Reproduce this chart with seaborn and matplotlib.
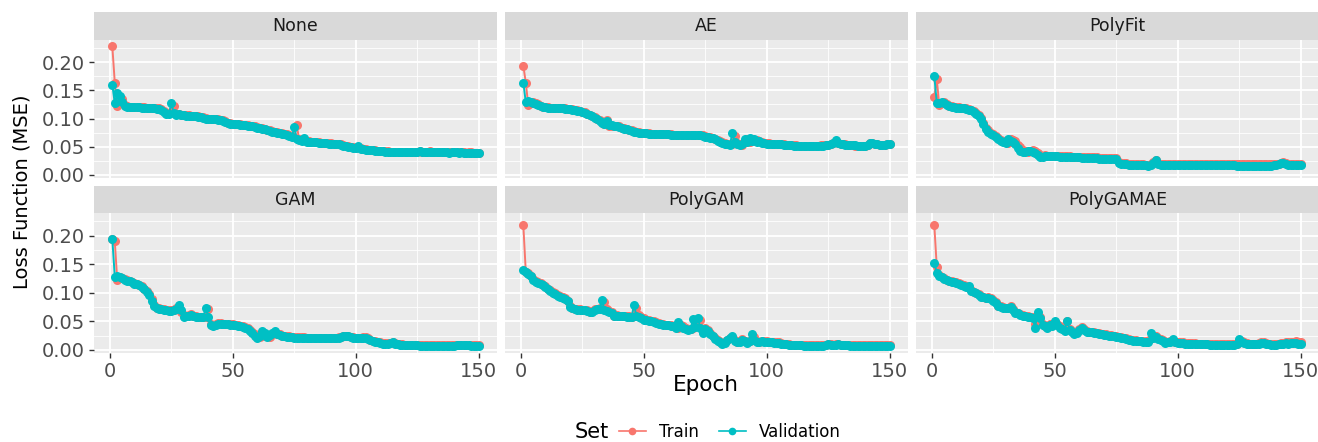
import numpy as np
import pandas as pd
import matplotlib
matplotlib.use("Agg")
import matplotlib.pyplot as plt
import seaborn as sns
from matplotlib.lines import Line2D
from matplotlib.ticker import MultipleLocator, FormatStrFormatter

# Loss values per epoch (in thousandths of MSE)
models = ["None", "AE", "PolyFit", "GAM", "PolyGAM", "PolyGAMAE"]
epochs = list(range(1, 151))

none_train = [228,164,122,130,135,124,122,121,121,121, 120,120,120,120,119,119,119,118,118,118,
              117,113,110,110,112,123,108,109,107,107, 106,106,105,105,105,104,103,102,101,100,
              100,100,99,99,98,97,95,93,92,91, 91,90,90,89,88,88,87,86,86,85,
              84,83,82,80,79,78,77,76,75,74, 73,72,70,69,67,88,63,62,64,60,
              60,59,59,58,58,57,57,57,56,56, 55,55,54,54,53,52,51,50,49,48,
              50,47,46,46,45,45,44,44,43,43, 42,42,42,41,41,41,41,41,40,41,
              41,41,40,41,41,42,41,41,41,42, 41,41,41,40,41,41,40,40,40,41,
              40,40,40,40,39,40,40,39,39,39]
none_val = [160,127,145,140,130,123,121,121,120,120, 120,120,119,119,119,118,118,118,117,117,
            116,112,109,108,127,110,107,108,106,106, 105,105,105,104,104,103,102,101,100,100,
            99,99,99,98,97,96,94,92,91,90, 90,90,89,89,88,87,86,86,85,84,
            83,82,81,79,78,77,76,75,74,73, 72,71,69,67,85,64,62,61,66,59,
            59,59,58,58,57,57,56,56,55,55, 55,54,54,53,52,51,50,49,48,47,
            51,46,46,45,45,44,44,43,43,42, 42,41,41,41,41,40,40,40,40,40,
            40,41,40,40,41,42,41,40,40,41, 40,40,41,40,40,40,40,39,40,40,
            40,39,40,39,39,39,39,39,39,38]

ae_train = [194,164,124,128,129,127,125,123,121,120, 120,119,119,119,118,118,118,118,117,117,
            117,116,115,114,112,111,109,107,105,102, 100,97,94,91,97,86,87,87,87,86,
            84,83,82,80,79,78,77,76,75,75, 74,74,73,73,73,72,72,72,72,72,
            72,71,71,71,71,71,71,71,71,71, 71,71,70,70,69,68,67,66,64,62,
            60,58,56,55,54,55,69,56,54,53, 60,63,58,64,61,62,60,58,57,56,
            56,55,55,55,54,54,54,53,53,53, 53,53,52,52,52,52,52,52,52,52,
            52,53,53,53,53,54,56,59,56,54, 54,54,53,53,53,52,52,52,52,52,
            53,56,57,55,54,53,53,53,54,54]
ae_val = [164,129,131,130,128,126,124,122,121,120, 119,119,119,118,118,118,118,117,117,117,
          116,115,114,113,111,110,108,106,104,101, 99,96,93,90,95,89,88,87,86,85,
          83,82,81,79,78,77,76,75,75,74, 74,73,73,73,72,72,72,72,72,72,
          71,71,71,71,71,71,71,70,70,70, 70,70,70,69,68,67,66,65,63,61,
          59,57,55,54,53,74,58,55,53,54, 63,59,65,60,63,59,61,57,56,55,
          55,55,55,54,54,54,53,53,53,53, 52,52,52,52,52,52,52,52,52,52,
          52,52,52,53,53,54,57,62,57,55, 54,53,53,53,53,53,52,52,52,52,
          53,56,56,55,54,53,53,53,54,55]

polyfit_train = [139,170,124,127,129,125,123,122,121,120, 120,119,119,118,117,116,113,110,106,101,
                 92,84,79,75,72,69,66,62,60,58, 57,63,62,60,53,49,44,42,40,42,
                 44,42,39,36,33,35,34,34,34,34, 34,33,33,33,33,33,32,32,32,32,
                 31,31,31,31,31,31,31,30,30,30, 30,30,30,30,30,23,22,21,21,20,
                 20,20,19,19,19,19,18,18,20,23, 27,21,20,20,20,20,20,20,20,20,
                 20,20,20,20,20,20,20,20,20,20, 20,20,20,19,19,19,19,19,19,19,
                 19,19,19,19,19,19,19,19,19,19, 19,19,19,19,19,19,19,19,19,20,
                 20,21,23,22,20,20,20,20,20,20]
polyfit_val = [175,128,128,130,128,124,122,121,120,119, 119,118,118,117,116,115,112,108,104,99,
               90,82,77,73,70,67,64,60,58,57, 63,61,59,54,48,43,41,40,43,43,
               41,38,35,32,31,34,33,33,33,33, 33,32,32,32,32,32,31,31,31,31,
               30,30,30,30,30,30,30,29,29,29, 29,29,29,29,28,21,20,19,19,18,
               18,18,17,17,17,17,17,16,18,22, 26,19,18,18,18,18,18,18,18,18,
               18,18,18,18,18,18,18,18,18,18, 18,17,17,17,17,17,17,17,17,17,
               17,17,17,16,16,16,16,16,16,16, 16,16,16,16,16,16,16,16,17,18,
               19,21,22,19,18,18,18,18,18,18]

gam_train = [194,190,122,127,126,124,123,121,119,117, 116,114,111,107,103,98,89,78,74,73,
             72,71,70,69,69,70,73,74,66,61, 60,61,62,60,59,58,58,58,57,71,
             46,43,45,47,47,46,46,46,45,45, 44,43,42,41,40,38,35,31,27,23,
             22,25,28,24,23,27,30,28,27,25, 25,24,24,23,22,22,22,22,22,21,
             21,21,21,21,21,21,21,21,21,21, 21,21,22,23,25,25,24,23,22,21,
             21,21,22,22,20,18,16,15,14,13, 12,12,12,12,13,12,11,10,10,9,
             9,9,9,8,8,8,8,8,8,8, 8,8,8,8,8,8,8,8,8,8,
             8,9,9,9,9,9,8,8,8,8]
gam_val = [194,128,130,127,125,123,121,120,118,116, 115,113,110,106,102,96,86,76,73,72,
           71,70,69,68,68,70,72,78,70,58, 59,60,61,59,58,57,57,57,74,58,
           44,42,44,46,46,45,45,45,44,44, 43,42,41,40,39,37,33,29,25,21,
           24,33,29,23,26,29,33,27,26,24, 24,23,23,22,21,21,21,21,21,21,
           21,20,20,20,20,20,20,20,20,20, 20,20,21,23,25,24,24,22,21,21,
           20,21,21,21,19,17,15,14,13,12, 11,11,11,12,13,11,10,9,9,8,
           8,8,8,8,8,7,7,7,7,7, 7,7,7,7,7,7,7,7,7,7,
           8,8,8,9,8,8,7,7,7,7]

polygam_train = [218,137,134,130,124,120,118,117,114,111, 107,104,101,99,96,94,92,90,86,77,
                 74,72,71,71,70,70,69,67,68,71, 72,73,74,84,71,68,67,60,61,60,
                 60,60,59,59,58,59,74,61,58,55, 53,52,51,50,48,47,46,45,44,44,
                 43,42,40,38,44,41,39,36,37,38, 50,41,53,31,38,34,30,25,21,17,
                 14,12,13,18,20,22,17,14,15,19, 16,13,16,19,22,15,14,16,15,15,
                 14,14,13,13,13,12,11,11,10,9, 9,9,9,9,8,8,8,8,8,8,
                 8,8,8,9,11,10,9,10,11,9, 9,9,9,8,8,8,8,8,8,8,
                 8,8,8,8,8,8,8,8,8,8]
polygam_val = [139,136,133,129,123,119,117,116,113,110, 106,103,100,98,95,93,91,89,85,75,
               73,71,70,70,69,69,68,66,67,70, 71,72,87,70,68,66,65,59,60,59,
               59,59,58,58,57,78,60,58,56,53, 52,51,50,49,47,46,45,44,43,43,
               42,41,39,49,42,39,37,35,36,54, 40,55,38,29,37,33,28,24,19,15,
               13,11,12,17,21,24,16,13,14,18, 15,12,15,28,17,14,13,15,14,14,
               13,13,12,12,12,11,10,10,9,8, 8,8,8,8,7,7,7,7,7,7,
               7,7,7,8,10,9,8,9,10,8, 8,8,8,7,7,7,7,7,7,7,
               7,7,7,7,7,7,7,7,7,7]

polygamae_train = [218,145,131,128,125,123,121,120,119,118, 117,115,113,111,108,104,102,100,97,94,
                   93,91,92,90,87,83,77,76,75,74, 74,76,71,66,65,62,61,60,59,58,
                   57,46,62,57,45,42,40,45,44,49, 46,41,38,34,50,37,33,30,32,36,
                   40,36,33,32,32,31,30,29,28,27, 27,26,26,25,24,23,22,21,20,19,
                   18,17,17,16,16,15,15,15,20,23, 25,21,19,17,13,14,15,18,14,13,
                   13,13,12,12,12,12,12,11,11,11, 11,11,10,10,10,10,10,10,10,10,
                   10,10,10,11,15,16,14,12,11,11, 11,11,12,13,14,12,11,10,10,10,
                   11,12,12,13,13,14,14,15,14,14]
polygamae_val = [152,135,130,127,124,122,120,119,118,117, 116,114,112,110,111,103,101,99,96,93,
                 92,90,91,89,86,82,76,75,74,73, 73,75,70,65,64,61,60,59,58,57,
                 56,38,67,56,43,41,39,43,42,51, 44,39,36,33,51,35,31,28,30,34,
                 39,35,32,31,31,30,29,28,27,26, 26,25,25,24,23,22,21,20,19,18,
                 17,16,16,15,15,14,14,14,29,21, 22,19,18,16,12,13,14,19,13,12,
                 12,12,11,11,11,11,11,10,10,10, 10,10,9,9,9,9,9,9,9,9,
                 9,9,9,10,19,14,12,11,10,10, 10,10,11,12,12,11,10,9,9,9,
                 10,11,11,12,11,12,12,12,11,11]

series = {
    "None": (none_train, none_val),
    "AE": (ae_train, ae_val),
    "PolyFit": (polyfit_train, polyfit_val),
    "GAM": (gam_train, gam_val),
    "PolyGAM": (polygam_train, polygam_val),
    "PolyGAMAE": (polygamae_train, polygamae_val),
}

rows = []
for m in models:
    tr, va = series[m]
    for e, t, v in zip(epochs, tr, va):
        rows.append((m, "Train", e, t / 1000))
        rows.append((m, "Validation", e, v / 1000))
df = pd.DataFrame(rows, columns=["Model", "Set", "Epoch", "Loss"])

palette = {"Train": "#F8766D", "Validation": "#00BFC4"}

plt.rcParams["font.family"] = ["DejaVu Sans"]
W, H = 1318, 442
fig = plt.figure(figsize=(W / 100, H / 100), dpi=100)

def frac(x0, y0, x1, y1):
    # pixel box (top-left origin) -> figure fraction rect
    return [x0 / W, 1 - y1 / H, (x1 - x0) / W, (y1 - y0) / H]

cols_x = [(94, 497), (505, 908), (916, 1319)]
rows_y = [((12, 40), (40, 178)), ((186, 213), (213, 353))]

for i, m in enumerate(models):
    r, c = divmod(i, 3)
    x0, x1 = cols_x[c]
    (sy0, sy1), (py0, py1) = rows_y[r]

    sax = fig.add_axes(frac(x0, sy0, x1, sy1))
    sax.set_facecolor("#D9D9D9")
    sax.set_xticks([]); sax.set_yticks([])
    for s in sax.spines.values():
        s.set_visible(False)
    sax.text(0.5, 0.5, m, ha="center", va="center", fontsize=12.5, color="#1A1A1A",
             transform=sax.transAxes)

    ax = fig.add_axes(frac(x0, py0, x1, py1))
    ax.set_facecolor("#EBEBEB")
    sns.lineplot(data=df[df["Model"] == m], x="Epoch", y="Loss", hue="Set",
                 palette=palette, marker="o", markersize=6.5, markeredgewidth=0,
                 linewidth=1.4, legend=False, ax=ax, zorder=3)
    ax.set_xlim(-6.45, 157.45)
    ax.set_ylim(-0.0055, 0.2395)
    ax.xaxis.set_major_locator(MultipleLocator(50))
    ax.xaxis.set_minor_locator(MultipleLocator(25))
    ax.yaxis.set_major_locator(MultipleLocator(0.05))
    ax.yaxis.set_minor_locator(MultipleLocator(0.025))
    ax.yaxis.set_major_formatter(FormatStrFormatter("%.2f"))
    ax.grid(which="major", color="white", linewidth=1.3, zorder=0)
    ax.grid(which="minor", color="white", linewidth=0.6, zorder=0)
    ax.set_axisbelow(True)
    for s in ax.spines.values():
        s.set_visible(False)
    ax.tick_params(which="major", length=3.5, width=1, color="#333333",
                   labelsize=14, labelcolor="#4D4D4D", pad=3)
    ax.tick_params(which="minor", length=0)
    ax.set_xlabel(""); ax.set_ylabel("")
    if c != 0:
        ax.tick_params(axis="y", which="major", length=0, labelleft=False)
    if r == 0:
        ax.tick_params(axis="x", which="major", length=0, labelbottom=False)

fig.text(22 / W, 1 - 192 / H, "Loss Function (MSE)", rotation=90, ha="center",
         va="center", fontsize=14, color="black")
fig.text(706 / W, 1 - 385 / H, "Epoch", ha="center", va="center", fontsize=15.5, color="black")

# legend at the bottom
fig.text(592 / W, 1 - 432 / H, "Set", ha="center", va="center", fontsize=15, color="black")
handles = [Line2D([0], [0], color=palette[k], marker="o", markersize=5.5,
                  markeredgewidth=0, linewidth=1.2) for k in ["Train", "Validation"]]
leg = fig.legend(handles, ["Train", "Validation"], loc="center",
                 bbox_to_anchor=(730 / W, 1 - 432 / H), ncol=2, frameon=False,
                 fontsize=12, handlelength=1.6, columnspacing=1.2, handletextpad=0.8)

fig.savefig("out.png", dpi=100)
